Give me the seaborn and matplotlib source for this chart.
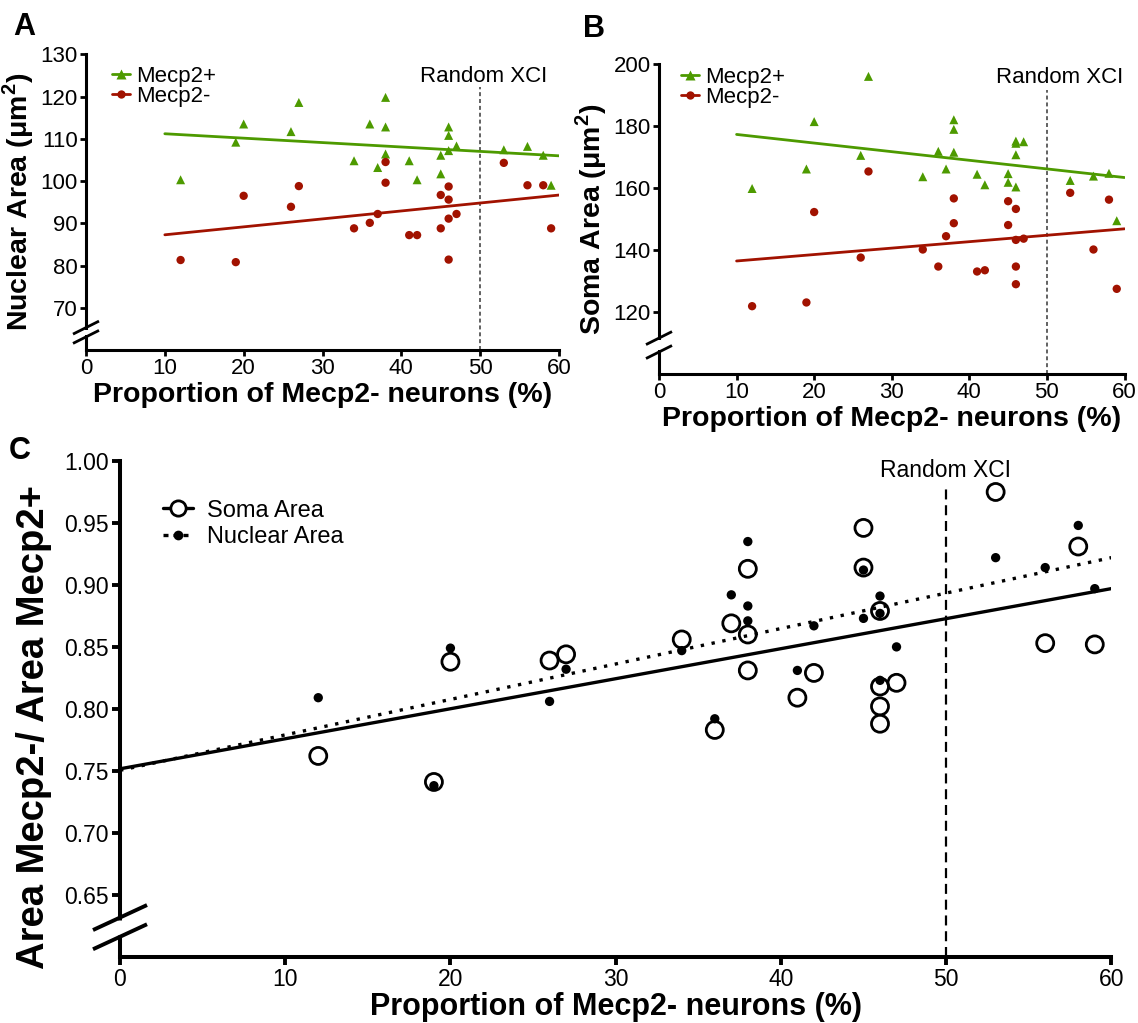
import numpy as np
import matplotlib
matplotlib.use("Agg")
import matplotlib.pyplot as plt
from matplotlib.lines import Line2D
import pandas as pd
import seaborn as sns

# ---------------- data ----------------
A_POS_X = [12, 19, 20, 26, 27, 34, 36, 37, 38, 38, 38, 41, 42, 45, 45, 46, 46, 46, 47, 53, 56, 58, 59]
A_POS_Y = [100.3, 109.2, 113.5, 111.7, 118.6, 104.8, 113.5, 103.2, 119.8, 112.8, 106.4, 104.8, 100.3,
           106.1, 101.7, 112.8, 110.8, 107.2, 108.3, 107.4, 108.2, 106.1, 99.0]
A_NEG_X = [12, 19, 20, 26, 27, 34, 36, 37, 38, 38, 41, 42, 45, 45, 46, 46, 46, 46, 47, 53, 56, 58, 59]
A_NEG_Y = [81.3, 80.8, 96.5, 93.9, 98.8, 88.8, 90.1, 92.2, 104.5, 99.6, 87.2, 87.2, 96.7, 88.8,
           98.7, 95.6, 91.1, 81.4, 92.2, 104.3, 99.0, 99.0, 88.8]

B_POS_X = [12, 19, 20, 26, 27, 34, 36, 37, 38, 38, 38, 41, 42, 45, 45, 46, 46, 46, 46, 47, 53, 56, 58, 59]
B_POS_Y = [159.8, 166.1, 181.4, 170.5, 196.0, 163.6, 171.8, 166.1, 182.0, 178.9, 171.5, 164.4, 161.0,
           164.6, 161.8, 175.1, 174.4, 170.7, 160.3, 174.9, 162.4, 163.8, 164.7, 149.4]
B_NEG_X = [12, 19, 20, 26, 27, 34, 36, 37, 38, 38, 41, 42, 45, 45, 46, 46, 46, 46, 47, 53, 56, 58, 59]
B_NEG_Y = [121.8, 123.0, 152.2, 137.5, 165.3, 140.1, 134.6, 144.4, 156.6, 148.6, 133.0, 133.4, 155.7,
           148.0, 153.2, 143.2, 134.6, 128.9, 143.6, 158.4, 140.1, 156.2, 127.4]

C_SOMA_X = [12, 19, 20, 26, 27, 34, 36, 37, 38, 38, 38, 41, 42, 45, 45, 46, 46, 46, 46, 47, 53, 56, 58, 59]
C_SOMA_Y = [0.762, 0.741, 0.838, 0.839, 0.844, 0.856, 0.783, 0.869, 0.913, 0.860, 0.831, 0.809, 0.829,
            0.946, 0.914, 0.879, 0.818, 0.802, 0.788, 0.821, 0.975, 0.853, 0.931, 0.852]
C_NUC_X = [12, 19, 20, 26, 27, 34, 36, 37, 38, 38, 38, 41, 42, 45, 45, 46, 46, 46, 47, 53, 56, 58, 59]
C_NUC_Y = [0.809, 0.738, 0.849, 0.806, 0.832, 0.847, 0.792, 0.892, 0.935, 0.883, 0.871, 0.831, 0.867,
           0.912, 0.873, 0.891, 0.877, 0.823, 0.850, 0.922, 0.914, 0.948, 0.897]

GREEN = "#4d9a00"
RED = "#a11200"

sns.set_theme(style="ticks")
plt.rcParams.update({
    "font.family": ["Liberation Sans", "DejaVu Sans"],
    "mathtext.fontset": "custom",
    "mathtext.rm": "Liberation Sans",
    "mathtext.bf": "Liberation Sans:bold",
    "axes.edgecolor": "black",
    "xtick.color": "black",
    "ytick.color": "black",
    "text.color": "black",
    "axes.labelcolor": "black",
})

fig = plt.figure(figsize=(11.38, 10.23), dpi=100)
W, H = 1138, 1023


def add_ax(left, top, right, bottom):
    return fig.add_axes([left / W, 1 - bottom / H, (right - left) / W, (bottom - top) / H])


def fit_line(x, y, x0, x1):
    k, b = np.polyfit(x, y, 1)
    xs = np.array([x0, x1])
    return pd.DataFrame({"x": xs, "y": k * xs + b})


def break_marks(ax, y_hi, y_lo, half_w, half_h, lw):
    # two slashes across the left spine, spine blanked between them
    ax.figure.canvas.draw()
    bw, bh = ax.bbox.width, ax.bbox.height
    y0, y1 = ax.get_ylim()
    for yv in (y_hi, y_lo):
        fy = (yv - y0) / (y1 - y0)
        ax.plot([-half_w / bw, half_w / bw], [fy - half_h / bh, fy + half_h / bh],
                transform=ax.transAxes, color="black", lw=lw, clip_on=False,
                solid_capstyle="butt", zorder=6)
    fh, fl = (y_hi - y0) / (y1 - y0), (y_lo - y0) / (y1 - y0)
    ax.plot([0, 0], [fl + 2 / bh, fh - 2 / bh], transform=ax.transAxes, color="white",
            lw=lw + 2, clip_on=False, zorder=5, solid_capstyle="butt")


def small_panel(ax, px, py, nx, ny, ylim, yticks, ylabel, xci_top, xci_text, leg_anchor):
    sns.scatterplot(x=px, y=py, ax=ax, marker="^", color=GREEN, s=42, edgecolor="none",
                    zorder=4, legend=False)
    sns.scatterplot(x=nx, y=ny, ax=ax, marker="o", color=RED, s=36, edgecolor="none",
                    zorder=4, legend=False)
    gp = fit_line(px, py, 10, 60)
    gn = fit_line(nx, ny, 10, 60)
    sns.lineplot(data=gp, x="x", y="y", ax=ax, color=GREEN, lw=2.0, zorder=3)
    sns.lineplot(data=gn, x="x", y="y", ax=ax, color=RED, lw=2.0, zorder=3)
    ax.plot([50, 50], [ylim[0], xci_top], color="#555555", lw=1.3, ls=(0, (2.2, 1.6)), zorder=2)
    ax.text(xci_text[0], xci_text[1], "Random XCI", ha="center", va="center", fontsize=16)
    ax.set_xlim(0, 60)
    ax.set_ylim(*ylim)
    ax.set_xticks(range(0, 61, 10))
    ax.set_yticks(yticks)
    ax.tick_params(axis="both", length=4.5, width=2.0, labelsize=16, pad=1.5)
    ax.set_xlabel("Proportion of Mecp2- neurons (%)", fontsize=20.5, fontweight="bold", labelpad=2)
    ax.set_ylabel(ylabel, fontsize=20.5, fontweight="bold", labelpad=3)
    for s in ("left", "bottom"):
        ax.spines[s].set_linewidth(2.2)
    sns.despine(ax=ax)
    handles = [Line2D([], [], color=GREEN, lw=2.0, marker="^", ms=6.5, mec="none"),
               Line2D([], [], color=RED, lw=2.0, marker="o", ms=6, mec="none")]
    ax.legend(handles, ["Mecp2+", "Mecp2-"], loc="center left", bbox_to_anchor=leg_anchor,
              frameon=False, fontsize=16, handlelength=0.8, handletextpad=0.3,
              labelspacing=-0.05, borderpad=0, borderaxespad=0)


# ---------------- A ----------------
axA = add_ax(86, 54.3, 559, 350)
small_panel(axA, A_POS_X, A_POS_Y, A_NEG_X, A_NEG_Y, (60, 130), range(70, 131, 10),
            "Nuclear Area (μm$^{\\mathbf{2}}$)", 122.3, (50.5, 124.7), (0.055, 0.891))
break_marks(axA, 65.3, 63.1, 13, 6.5, 2.0)

# ---------------- B ----------------
axB = add_ax(659, 64, 1124.5, 373.7)
small_panel(axB, B_POS_X, B_POS_Y, B_NEG_X, B_NEG_Y, (100, 200), range(120, 201, 20),
            "Soma Area (μm$^{\\mathbf{2}}$)", 191.7, (51.6, 195.6), (0.047, 0.925))
break_marks(axB, 111.5, 107.0, 13, 6.5, 2.0)

# ---------------- C ----------------
axC = add_ax(120, 461, 1111.3, 956.7)
sns.scatterplot(x=C_SOMA_X, y=C_SOMA_Y, ax=axC, marker="o", s=150, facecolor="none",
                edgecolor="black", linewidth=2.0, zorder=4, legend=False)
sns.scatterplot(x=C_NUC_X, y=C_NUC_Y, ax=axC, marker="o", s=45, color="black",
                edgecolor="none", zorder=5, legend=False)
sns.lineplot(data=fit_line(C_SOMA_X, C_SOMA_Y, 0, 60), x="x", y="y", ax=axC,
             color="black", lw=2.4, zorder=3)
sns.lineplot(data=fit_line(C_NUC_X, C_NUC_Y, 0, 60), x="x", y="y", ax=axC,
             color="black", lw=2.4, ls=(0, (1.0, 2.3)), zorder=3)
axC.plot([50, 50], [0.60, 0.978], color="black", lw=1.6, ls=(0, (4.5, 2.6)), zorder=2)
axC.text(49.95, 0.9927, "Random XCI", ha="center", va="center", fontsize=16.5)
axC.set_xlim(0, 60)
axC.set_ylim(0.60, 1.00)
axC.set_xticks(range(0, 61, 10))
axC.set_yticks(np.round(np.arange(0.65, 1.001, 0.05), 2))
axC.yaxis.set_major_formatter(matplotlib.ticker.FormatStrFormatter("%.2f"))
axC.tick_params(axis="both", length=6, width=2.8, labelsize=16.5, pad=2)
for s in ("left", "bottom"):
    axC.spines[s].set_linewidth(2.9)
sns.despine(ax=axC)
axC.set_xlabel("Proportion of Mecp2- neurons (%)", fontsize=22, fontweight="bold", labelpad=1)
axC.set_ylabel("Area Mecp2-/ Area Mecp2+", fontsize=27.5, fontweight="bold")
axC.yaxis.set_label_coords(-0.0686, 0.464)
hC = [Line2D([], [], color="black", lw=2.4, marker="o", ms=11, mfc="white", mec="black", mew=2.0),
      Line2D([], [], color="black", lw=2.4, ls=(0, (1.5, 1.5)), marker="o", ms=7, mfc="black", mec="none")]
axC.legend(hC, ["Soma Area", "Nuclear Area"], loc="center left", bbox_to_anchor=(0.043, 0.873),
           frameon=False, fontsize=17, handlelength=1.3, handletextpad=0.6, labelspacing=0.2,
           borderpad=0, borderaxespad=0)
break_marks(axC, 0.6316, 0.6161, 27, 12.5, 2.8)

# panel letters
for lab, x, y in (("A", 13, 12), ("B", 583, 14), ("C", 9, 436)):
    fig.text(x / W, 1 - y / H, lab, fontsize=22, fontweight="bold", va="top", ha="left")

fig.savefig("out.png", dpi=100, facecolor="white")
